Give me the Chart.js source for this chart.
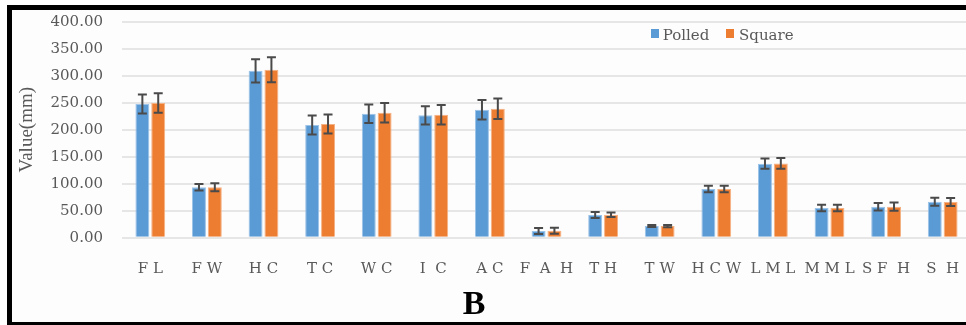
<!DOCTYPE html>
<html>
<head>
<meta charset="utf-8">
<script src="https://cdn.jsdelivr.net/npm/chart.js@4.4.1/dist/chart.umd.min.js"></script>
<style>
  html, body { margin: 0; padding: 0; background: #ffffff; }
  #wrap { position: relative; width: 966px; height: 325px; overflow: hidden; background: #ffffff; }
  #frame { position: absolute; left: 7px; top: 5px; width: 1000px; height: 322px; box-sizing: border-box;
           border-top: 5px solid #000; border-left: 5px solid #000; border-bottom: 5px solid #000; background: #fdfdfd; }
  #chart { position: absolute; left: 0; top: 0; }
  .leg-box { position: absolute; width: 8px; height: 9px; }
  .leg-txt { position: absolute; font-family: "DejaVu Serif", serif; font-size: 15px; line-height: 18px; color: #595959; white-space: nowrap; }
  #panel { position: absolute; left: 424px; top: 286px; width: 100px; text-align: center;
           font-family: "Liberation Serif", "Times New Roman", serif; font-weight: bold; font-size: 34px; line-height: 34px; color: #000; }
</style>
</head>
<body>
<div id="wrap">
  <div id="frame"></div>
  <canvas id="chart" width="975" height="325"></canvas>
  <div id="legend"></div>
  <div id="panel">B</div>
</div>
<script>
// ---- data ----
const categories = ["F L", "F W", "H C", "T C", "W C", "I  C", "A C", "F  A  H", "T H", "T W", "H C W", "L M L", "M M L", "S F  H", "S  H"];
const seriesNames = ["Polled", "Square"];
const polled    = [247.6, 93.3, 309.0, 208.7, 229.6, 226.6, 237.0, 12.4, 42.0, 21.7, 90.0, 137.0, 55.0, 57.4, 66.7];
const square    = [249.4, 93.5, 311.0, 210.5, 231.5, 227.8, 239.0, 13.0, 42.5, 21.5, 90.0, 137.5, 55.0, 57.5, 66.0];
const polledErr = [17.5, 6.0, 21.5, 17.5, 17.0, 17.0, 18.0, 5.5, 5.5, 2.0, 6.0, 9.5, 6.0, 7.0, 7.5];
const squareErr = [18.0, 7.5, 23.0, 17.5, 18.0, 18.0, 19.0, 5.5, 4.0, 2.0, 6.0, 10.0, 6.0, 7.5, 7.5];
const yTickValues = [0, 50, 100, 150, 200, 250, 300, 350, 400];
const yTitle = "Value(mm)";

const colors = ["#5B9BD5", "#ED7D31"];
const borders = ["#9cc3e8", "#f4b183"];
const errs = [polledErr, squareErr];

const errorBars = {
  id: "errorBars",
  afterDatasetsDraw(chart) {
    const ctx = chart.ctx;
    const ys = chart.scales.y;
    ctx.save();
    ctx.strokeStyle = "#4a4a4a";
    ctx.lineWidth = 2;
    chart.data.datasets.forEach((ds, i) => {
      const meta = chart.getDatasetMeta(i);
      meta.data.forEach((el, j) => {
        const v = ds.data[j], e = errs[i][j];
        const x = el.x;
        const yt = ys.getPixelForValue(v + e);
        const yb = ys.getPixelForValue(v - e);
        const w = 4.5;
        ctx.beginPath();
        ctx.moveTo(x, yt); ctx.lineTo(x, yb);
        ctx.moveTo(x - w, yt); ctx.lineTo(x + w, yt);
        ctx.moveTo(x - w, yb); ctx.lineTo(x + w, yb);
        ctx.stroke();
      });
    });
    ctx.restore();
  }
};

const chart = new Chart(document.getElementById("chart"), {
  type: "bar",
  data: {
    labels: categories,
    datasets: [
      { label: seriesNames[0], data: polled, backgroundColor: colors[0], borderColor: borders[0], borderWidth: 1,
        categoryPercentage: 0.56, barPercentage: 0.88 },
      { label: seriesNames[1], data: square, backgroundColor: colors[1], borderColor: borders[1], borderWidth: 1,
        categoryPercentage: 0.56, barPercentage: 0.88 }
    ]
  },
  options: {
    responsive: false,
    animation: false,
    devicePixelRatio: 1,
    layout: { padding: { top: 21.7, right: 4, left: 0, bottom: 0 } },
    plugins: { legend: { display: false }, tooltip: { enabled: false } },
    scales: {
      x: {
        grid: { display: false, drawTicks: false },
        border: { display: false },
        ticks: { padding: 22, color: "#595959", maxRotation: 0, autoSkip: false,
                 font: { family: "DejaVu Serif", size: 15 } },
        afterFit(scale) { scale.height = 87.3; scale.paddingLeft = 0; scale.paddingRight = 0; }
      },
      y: {
        min: 0, max: 400,
        afterBuildTicks(scale) { scale.ticks = yTickValues.map(v => ({ value: v })); },
        grid: { color: "#e6e6e6", lineWidth: 2, drawTicks: false },
        border: { display: false },
        ticks: { padding: 19, color: "#595959", font: { family: "DejaVu Serif", size: 15 },
                 callback: (v) => Number(v).toFixed(2) },
        title: { display: true, text: yTitle, color: "#595959", padding: { top: 15.6, bottom: 0 },
                 font: { family: "Liberation Serif", size: 19 } },
        afterFit(scale) { scale.width = 122; scale.paddingTop = 0; scale.paddingBottom = 0; }
      }
    }
  },
  plugins: [errorBars]
});

// HTML legend built from the datasets
const legPos = [{ box: 651, txt: 662.7 }, { box: 726, txt: 739 }];
const leg = document.getElementById("legend");
chart.data.datasets.forEach((ds, i) => {
  const b = document.createElement("div");
  b.className = "leg-box";
  b.style.left = legPos[i].box + "px"; b.style.top = "29px"; b.style.background = ds.backgroundColor;
  leg.appendChild(b);
  const t = document.createElement("div");
  t.className = "leg-txt";
  t.style.left = legPos[i].txt + "px"; t.style.top = "25.8px";
  t.textContent = ds.label;
  leg.appendChild(t);
});
</script>
</body>
</html>
